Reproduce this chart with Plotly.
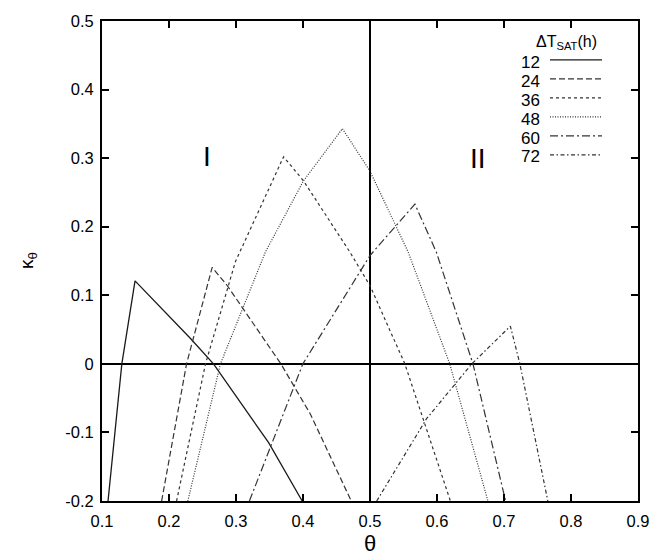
import plotly.graph_objects as go

# ---- data ----
SERIES_NAMES = ["12", "24", "36", "48", "60", "72"]
LEGEND_TITLE = "ΔT<sub>SAT</sub>(h)"

x_12 = [0.109, 0.1296, 0.1493, 0.2321, 0.2664, 0.3487, 0.3988]
y_12 = [-0.2, 0.0, 0.121, 0.037, 0.0, -0.115, -0.2]

x_24 = [0.189, 0.2262, 0.2644, 0.2863, 0.367, 0.4107, 0.472]
y_24 = [-0.2, 0.0, 0.1406, 0.115, 0.0, -0.0727, -0.2]

x_36 = [0.2113, 0.2545, 0.2991, 0.371, 0.4007, 0.470, 0.500, 0.552, 0.620]
y_36 = [-0.2, 0.0, 0.149, 0.302, 0.267, 0.163, 0.114, 0.0, -0.2]

x_48 = [0.2281, 0.2768, 0.3438, 0.4007, 0.4588, 0.500, 0.557, 0.619, 0.676]
y_48 = [-0.2, 0.0, 0.163, 0.267, 0.343, 0.281, 0.163, 0.0, -0.2]

x_60 = [0.320, 0.3998, 0.500, 0.567, 0.599, 0.6537, 0.7024]
y_60 = [-0.2, 0.0, 0.158, 0.233, 0.163, 0.0, -0.2]

x_72 = [0.510, 0.5844, 0.652, 0.7095, 0.7237, 0.7654]
y_72 = [-0.2, -0.08, 0.0, 0.055, 0.0, -0.2]

THETA_SPLIT = 0.5
REGION_LABELS = ["I", "II"]
REGION_X = [0.257, 0.661]
REGION_Y = [0.302, 0.300]

X_TICKS = [0.1, 0.2, 0.3, 0.4, 0.5, 0.6, 0.7, 0.8, 0.9]
X_TICKTEXT = ["0.1", "0.2", "0.3", "0.4", "0.5", "0.6", "0.7", "0.8", "0.9"]
Y_TICKS = [-0.2, -0.1, 0.0, 0.1, 0.2, 0.3, 0.4, 0.5]
Y_TICKTEXT = ["-0.2", "-0.1", "0", "0.1", "0.2", "0.3", "0.4", "0.5"]

# ---- styles ----
FONT = "Liberation Sans, Arial, Helvetica, sans-serif"
styles = [
    dict(color="#1a1a1a", width=1.3, dash="solid"),
    dict(color="#333333", width=1.2, dash="6px,3px"),
    dict(color="#333333", width=1.2, dash="3px,3px"),
    dict(color="#333333", width=1.2, dash="1px,1.5px"),
    dict(color="#333333", width=1.2, dash="8px,3px,2px,3px"),
    dict(color="#333333", width=1.2, dash="4px,2.5px,1.5px,2.5px"),
]
xs = [x_12, x_24, x_36, x_48, x_60, x_72]
ys = [y_12, y_24, y_36, y_48, y_60, y_72]

fig = go.Figure()
for name, x, y, st in zip(SERIES_NAMES, xs, ys, styles):
    fig.add_trace(go.Scatter(x=x, y=y, mode="lines", name="", line=st,
                             showlegend=True, hoverinfo="skip"))

fig.add_vline(x=THETA_SPLIT, line=dict(color="black", width=2), layer="below")

L, R, T, B = 102, 32, 17, 57
W, H = 670, 558
PW, PH = W - L - R, H - T - B

def px_to_paper_x(px):
    return (px - L) / PW

def px_to_paper_y(py):
    return (H - B - py) / PH

annotations = []
for lab, rx, ry in zip(REGION_LABELS, REGION_X, REGION_Y):
    annotations.append(dict(x=rx, y=ry, xref="x", yref="y", text=lab, showarrow=False,
                            font=dict(family=FONT, size=28, color="black")))

# axis titles
annotations.append(dict(x=0.5, y=px_to_paper_y(558), xref="paper", yref="paper",
                        text="θ", showarrow=False, yanchor="bottom",
                        font=dict(family=FONT, size=22, color="black")))
annotations.append(dict(x=0, y=0.5, xref="paper", yref="paper", xshift=-74,
                        text="κ<sub>θ</sub>", showarrow=False, textangle=-90,
                        xanchor="center", yanchor="middle",
                        font=dict(family=FONT, size=19, color="black")))

# legend title and labels (samples drawn by plotly's legend)
annotations.append(dict(x=px_to_paper_x(566), y=px_to_paper_y(39), xref="paper", yref="paper",
                        text=LEGEND_TITLE, showarrow=False, xanchor="center", yanchor="middle",
                        font=dict(family=FONT, size=16, color="black")))
ROW0, ROWSTEP = 59, 19
for i, name in enumerate(SERIES_NAMES):
    annotations.append(dict(x=px_to_paper_x(542), y=px_to_paper_y(ROW0 + ROWSTEP * i),
                            xref="paper", yref="paper", text=name, showarrow=False,
                            xanchor="right", yanchor="middle",
                            font=dict(family=FONT, size=17, color="black")))

axis_common = dict(showline=True, linecolor="black", linewidth=2, mirror="ticks",
                   ticks="inside", ticklen=7, tickwidth=1.5, tickcolor="black",
                   showgrid=False, tickfont=dict(family=FONT, size=16.5, color="black"))

fig.update_layout(
    width=W, height=H,
    margin=dict(l=L, r=R, t=T, b=B),
    paper_bgcolor="white", plot_bgcolor="white",
    showlegend=True,
    legend=dict(x=px_to_paper_x(545), y=px_to_paper_y(41.5), xanchor="left", yanchor="top",
                bgcolor="rgba(0,0,0,0)", borderwidth=0, font=dict(family=FONT, size=12),
                itemwidth=52, tracegroupgap=0),
    xaxis=dict(range=[0.1, 0.9], tickvals=X_TICKS, ticktext=X_TICKTEXT,
               zeroline=False, ticklabelstandoff=4, **axis_common),
    yaxis=dict(range=[-0.2, 0.5], tickvals=Y_TICKS, ticktext=Y_TICKTEXT,
               zeroline=True, zerolinecolor="black", zerolinewidth=2,
               ticklabelstandoff=3, **axis_common),
    annotations=annotations,
)

fig.write_html("out.html", config={"displayModeBar": False},
               post_script="document.body.style.margin='0';document.body.style.padding='0';")
